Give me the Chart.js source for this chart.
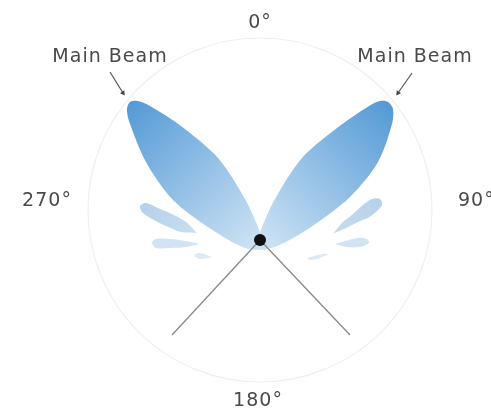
<!DOCTYPE html>
<html>
<head>
<meta charset="utf-8">
<script src="https://cdn.jsdelivr.net/npm/chart.js@4.4.1/dist/chart.umd.min.js"></script>
<style>
  body { margin: 0; background: #fff; }
  #wrap { width: 491px; height: 411px; }
</style>
</head>
<body>
<div id="wrap"><canvas id="pattern"></canvas></div>
<script>
// Pattern coordinates: origin at the feed point, 1 unit = 10 px, y up.

// main lobes, outline (starts at the feed end)
const leftBeam = [
  [0.6, -1.0], [-0.2, 1.3], [-1.5, 4.1], [-4.2, 8.2], [-7.9, 11.4],
  [-11.0, 13.4], [-12.2, 13.9], [-13.0, 13.8], [-13.3, 13.1], [-13.1, 11.9],
  [-11.4, 7.8], [-8.7, 4.0], [-4.9, 1.1], [-1.5, -0.8], [0.6, -1.0]
];
const rightBeam = [
  [-0.6, -1.0], [0.2, 1.3], [1.5, 4.1], [4.2, 8.2], [7.7, 11.2],
  [10.9, 13.4], [12.0, 13.9], [12.8, 13.8], [13.3, 13.1], [13.2, 11.6],
  [11.8, 7.8], [9.0, 4.3], [5.1, 1.3], [1.5, -0.7], [-0.6, -1.0]
];

// side lobes
const leftSide1 = [
  [-6.3, 0.7], [-7.4, 1.8], [-8.8, 2.6], [-10.2, 3.2], [-11.4, 3.7],
  [-12.0, 3.4], [-11.8, 2.8], [-10.8, 2.1], [-9.4, 1.4], [-7.9, 0.8], [-6.3, 0.7]
];
const leftSide2 = [
  [-6.0, -0.4], [-7.4, -0.1], [-9.0, 0.1], [-10.4, 0.1], [-10.8, -0.3],
  [-10.4, -0.8], [-9.0, -0.8], [-7.4, -0.7], [-6.0, -0.4]
];
const leftSide3 = [[-4.8, -1.7], [-6.0, -1.3], [-6.6, -1.5], [-6.0, -1.9], [-4.8, -1.7]];
const rightSide1 = [
  [7.3, 0.6], [8.2, 1.7], [9.3, 2.6], [10.3, 3.5], [11.2, 4.1],
  [12.0, 4.1], [12.2, 3.5], [11.1, 2.4], [9.8, 1.8], [8.6, 1.2], [7.3, 0.6]
];
const rightSide2 = [
  [7.5, -0.4], [8.5, -0.1], [9.8, 0.2], [10.7, 0.1], [10.9, -0.3],
  [10.0, -0.7], [8.7, -0.7], [7.5, -0.4]
];
const rightSide3 = [[4.7, -1.8], [5.8, -1.5], [6.8, -1.4], [6.0, -1.8], [5.0, -2.0], [4.7, -1.8]];

// feed lines and feed point
const feedPoint = [0, 0];
const feedLeft = [[0, 0], [-8.8, -9.5]];
const feedRight = [[0, 0], [9.0, -9.5]];

// callout arrows
const arrowLeft = [[-15.0, 16.8], [-13.7, 14.7]];
const arrowRight = [[15.2, 16.7], [13.8, 14.7]];

// reference circle: centre x, centre y, radius
const ring = [0, 3.0, 17.2];

// text labels: text, x, y, align
const angleLabels = [
  ["0°", 0, 21.7, "center"],
  ["90°", 19.8, 3.9, "left"],
  ["180°", -0.2, -16.1, "center"],
  ["270°", -21.3, 3.9, "center"],
  ["Main Beam", -15.0, 18.3, "center"],
  ["Main Beam", 15.5, 18.3, "center"]
];

function toPoints(arr) {
  return arr.map(([x, y]) => ({ x, y }));
}

function beamFill(tip, base, c0, c1) {
  return (context) => {
    const chart = context.chart;
    if (!chart.chartArea) return c1;
    const xs = chart.scales.x;
    const ys = chart.scales.y;
    const g = chart.ctx.createLinearGradient(
      xs.getPixelForValue(tip[0]), ys.getPixelForValue(tip[1]),
      xs.getPixelForValue(base[0]), ys.getPixelForValue(base[1])
    );
    g.addColorStop(0, c0);
    g.addColorStop(1, c1);
    return g;
  };
}

function lobe(points, fill, order) {
  return {
    data: toPoints(points),
    showLine: true,
    fill: "shape",
    backgroundColor: fill,
    borderColor: "rgba(0,0,0,0)",
    borderWidth: 0,
    pointRadius: 0,
    tension: 0.3,
    order: order,
  };
}

function arrow(points, angle) {
  return {
    data: toPoints(points),
    showLine: true,
    borderColor: "#555",
    borderWidth: 1.2,
    backgroundColor: "#444",
    pointBackgroundColor: "#444",
    pointBorderWidth: 0,
    pointStyle: "triangle",
    pointRadius: (c) => (c.dataIndex === 1 ? 3 : 0),
    pointRotation: angle,
    order: 1,
  };
}

const patternDecor = {
  id: "patternDecor",
  beforeDatasetsDraw(chart) {
    const ctx = chart.ctx;
    const xs = chart.scales.x;
    const ys = chart.scales.y;
    const cx = xs.getPixelForValue(ring[0]);
    const cy = ys.getPixelForValue(ring[1]);
    const r = xs.getPixelForValue(ring[2]) - xs.getPixelForValue(0);
    ctx.save();
    ctx.strokeStyle = "#efefef";
    ctx.lineWidth = 1.2;
    ctx.beginPath();
    ctx.arc(cx, cy, r, 0, Math.PI * 2);
    ctx.stroke();
    ctx.restore();
  },
  afterDatasetsDraw(chart) {
    const ctx = chart.ctx;
    const xs = chart.scales.x;
    const ys = chart.scales.y;
    ctx.save();
    ctx.font = "19px 'DejaVu Sans'";
    ctx.letterSpacing = "1px";
    ctx.fillStyle = "#4a4a4a";
    ctx.textBaseline = "middle";
    angleLabels.forEach(([text, x, y, align]) => {
      ctx.textAlign = align;
      ctx.fillText(text, xs.getPixelForValue(x), ys.getPixelForValue(y));
    });
    ctx.restore();
  },
};

const ctx1 = document.getElementById("pattern");

const myChart = new Chart(ctx1, {
  type: "scatter",
  data: {
    datasets: [
      {
        data: toPoints([feedPoint]),
        pointRadius: 6,
        pointBackgroundColor: "#111",
        pointBorderWidth: 0,
        order: 0,
      },
      {
        data: toPoints(feedLeft),
        showLine: true,
        borderColor: "#888",
        borderWidth: 1.3,
        pointRadius: 0,
        order: 1,
      },
      {
        data: toPoints(feedRight),
        showLine: true,
        borderColor: "#888",
        borderWidth: 1.3,
        pointRadius: 0,
        order: 1,
      },
      arrow(arrowLeft, 147),
      arrow(arrowRight, 215),
      lobe(leftBeam, beamFill([-13.0, 13.8], feedPoint, "rgb(84,154,214)", "rgb(204,226,244)"), 2),
      lobe(rightBeam, beamFill([12.8, 13.8], feedPoint, "rgb(84,154,214)", "rgb(204,226,244)"), 2),
      lobe(leftSide1, beamFill([-12.0, 3.4], feedPoint, "rgb(182,209,234)", "rgb(220,234,246)"), 3),
      lobe(leftSide2, "rgb(210,228,243)", 3),
      lobe(leftSide3, "rgb(220,234,246)", 3),
      lobe(rightSide1, beamFill([12.0, 4.1], feedPoint, "rgb(182,209,234)", "rgb(220,234,246)"), 3),
      lobe(rightSide2, "rgb(210,228,243)", 3),
      lobe(rightSide3, "rgb(220,234,246)", 3),
    ],
  },
  options: {
    responsive: true,
    maintainAspectRatio: false,
    animation: false,
    layout: { padding: 0, autoPadding: false },
    scales: {
      x: { type: "linear", min: -26, max: 23.1, display: false },
      y: { type: "linear", min: -17.1, max: 24.0, display: false },
    },
    plugins: {
      legend: { display: false },
      tooltip: { enabled: false },
    },
  },
  plugins: [patternDecor],
});
</script>
</body>
</html>
